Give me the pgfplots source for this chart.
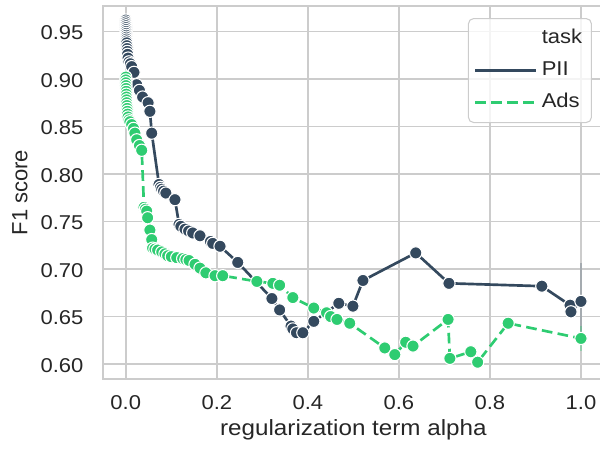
\documentclass[border=0pt]{standalone}
\usepackage{pgfplots}
\pgfplotsset{compat=1.18}
\usepackage{fontspec}
\setmainfont{Liberation Sans}[FakeStretch=1.1]
\newfontfamily\ylabfont{Liberation Sans}
\usetikzlibrary{calc}
\definecolor{pii}{HTML}{34495E}
\definecolor{ads}{HTML}{2ECC71}
\definecolor{textgray}{HTML}{262626}
\definecolor{gridgray}{HTML}{CCCCCC}
\newcommand{\ticksize}{\fontsize{15}{18}\selectfont}
\newcommand{\labsize}{\fontsize{16.5}{20}\selectfont}
\begin{document}
\begin{tikzpicture}
\begin{axis}[
  scale only axis,
  width=375.4pt, height=279.75pt,
  xmin=-0.05, xmax=1.05, ymin=0.5842, ymax=0.9768,
  xtick={0,0.2,0.4,0.6,0.8,1.0},
  ytick={0.60,0.65,0.70,0.75,0.80,0.85,0.90,0.95},
  /pgf/number format/assume math mode=true,
  tick label style={font=\ticksize, color=textgray},
  xticklabel style={/pgf/number format/fixed, /pgf/number format/fixed zerofill, /pgf/number format/precision=1, /tikz/anchor=north, /tikz/inner sep=0pt, /tikz/yshift=-12pt},
  yticklabel style={/pgf/number format/fixed, /pgf/number format/fixed zerofill, /pgf/number format/precision=2, /tikz/anchor=east, /tikz/inner sep=0pt, /tikz/xshift=-14.5pt, /tikz/yshift=-1pt},
  major tick length=0pt,
  tick style={draw=none},
  grid=major,
  major grid style={color=gridgray, line width=1.2pt},
  axis line style={color=gridgray, line width=1.5pt},
  xlabel={regularization term alpha},
  ylabel={\ylabfont F1 score},
  xlabel style={font=\labsize, color=textgray, at={(axis description cs:0.5,-0.1072)}, anchor=north, inner sep=0pt},
  ylabel style={font=\labsize, color=textgray, at={(axis description cs:-0.1818,0.5)}, anchor=north, inner sep=0pt},
  legend style={at={(axis description cs:1,1)}, anchor=north east, xshift=-8.8pt, yshift=-9pt,
    draw=gridgray, line width=0.8pt, rounded corners=4pt, fill=white, fill opacity=0.8, text opacity=1,
    text=textgray, font=\ticksize, inner xsep=4pt, inner ysep=5pt, row sep=4pt,
    nodes={inner sep=3pt, text height=11pt, text depth=3pt}},
  legend cell align=left,
  legend image code/.code={\path (0pt,0pt) -- (46pt,0pt); \draw[#1] (0pt,0pt) -- (35pt,0pt);},
  legend entries={task,PII,Ads},
]
\addlegendimage{empty legend}
% error bands at alpha = 1.0
\addplot[forget plot, pii, opacity=0.25, line width=1.2pt] coordinates {(1.0,0.706) (1.0,0.628)};
\addplot[forget plot, ads, opacity=0.35, line width=1.2pt] coordinates {(1.0,0.640) (1.0,0.614)};
% PII
\addplot[pii, line width=2pt, mark=*, mark size=4.6pt, mark options={draw=white, line width=0.8pt, fill=pii, solid}] coordinates {
(0.0001,0.962)(0.0002,0.960)(0.0003,0.958)(0.0004,0.956)(0.0005,0.954)(0.0006,0.952)(0.0008,0.950)(0.001,0.948)(0.0012,0.946)(0.0014,0.944)(0.0016,0.942)(0.0018,0.940)(0.002,0.938)(0.0025,0.935)(0.003,0.932)(0.0035,0.929)(0.004,0.926)(0.005,0.922)(0.007,0.918)(0.010,0.916)(0.013,0.913)(0.018,0.907)(0.024,0.894)(0.030,0.888)(0.037,0.881)(0.049,0.875)(0.053,0.866)(0.057,0.843)(0.073,0.789)(0.076,0.786)(0.079,0.784)(0.083,0.782)(0.088,0.780)(0.108,0.773)(0.117,0.747)(0.121,0.745)(0.130,0.742)(0.138,0.740)(0.147,0.738)(0.163,0.735)(0.186,0.729)(0.191,0.727)(0.207,0.724)(0.246,0.707)(0.321,0.669)(0.338,0.657)(0.363,0.640)(0.367,0.637)(0.375,0.633)(0.389,0.633)(0.413,0.645)(0.468,0.664)(0.499,0.661)(0.521,0.688)(0.637,0.717)(0.710,0.685)(0.914,0.682)(0.976,0.662)(0.978,0.655)(1.0,0.666)
};
% Ads
\addplot[ads, line width=2pt, dash pattern=on 8pt off 4pt, mark=*, mark size=4.6pt, mark options={draw=white, line width=0.8pt, fill=ads, solid}] coordinates {
(0.0001,0.902)(0.0002,0.899)(0.0003,0.896)(0.0005,0.893)(0.0007,0.890)(0.001,0.887)(0.0012,0.884)(0.0015,0.881)(0.0018,0.878)(0.002,0.875)(0.0025,0.872)(0.003,0.869)(0.0035,0.866)(0.004,0.863)(0.005,0.860)(0.007,0.857)(0.009,0.855)(0.013,0.852)(0.017,0.848)(0.020,0.843)(0.024,0.836)(0.030,0.830)(0.035,0.825)(0.040,0.765)(0.043,0.763)(0.046,0.761)(0.048,0.754)(0.053,0.741)(0.057,0.731)(0.059,0.722)(0.064,0.721)(0.070,0.720)(0.079,0.718)(0.086,0.716)(0.092,0.714)(0.100,0.713)(0.112,0.712)(0.125,0.711)(0.132,0.710)(0.139,0.709)(0.152,0.705)(0.163,0.701)(0.176,0.696)(0.196,0.693)(0.213,0.693)(0.288,0.687)(0.323,0.685)(0.338,0.683)(0.367,0.670)(0.413,0.659)(0.441,0.654)(0.450,0.650)(0.464,0.647)(0.492,0.643)(0.569,0.617)(0.591,0.610)(0.615,0.623)(0.631,0.619)(0.708,0.647)(0.712,0.606)(0.758,0.613)(0.773,0.602)(0.840,0.643)(1.0,0.627)
};
\end{axis}
\pgfresetboundingbox
\path[use as bounding box] ($(current axis.south west)+(-77.25pt,-52.5pt)$) rectangle ($(current axis.north east)+(-2.8pt,4.5pt)$);
\end{tikzpicture}
\end{document}
